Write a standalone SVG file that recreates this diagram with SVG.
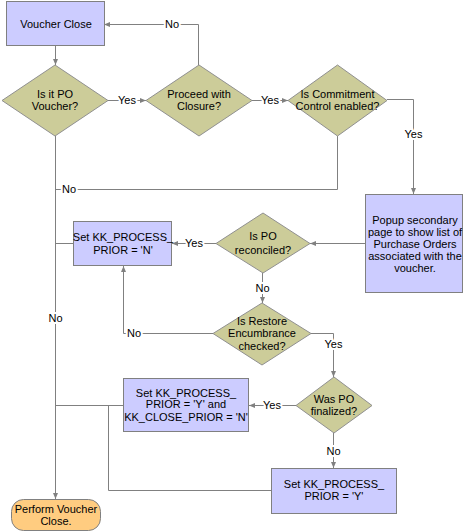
<svg xmlns="http://www.w3.org/2000/svg" width="465" height="532" viewBox="0 0 465 532">
<style>
.box{fill:#CCCCFF;stroke:#808080;stroke-width:1}
.dec{fill:#CCCC99;stroke:#909090;stroke-width:1}
.term{fill:#FFCC80;stroke:#808080;stroke-width:1}
.ln{fill:none;stroke:#808080;stroke-width:1}
text{font-family:"Liberation Sans",Arial,sans-serif;font-size:11px;fill:#000;text-anchor:middle}
.lbl{stroke:#fff;stroke-width:4px;paint-order:stroke;stroke-linejoin:round}
</style>
<defs>
<marker id="ah" viewBox="0 0 6 6" refX="6" refY="3" markerWidth="6" markerHeight="6" orient="auto" markerUnits="userSpaceOnUse">
<path d="M0,0.5 L6,3 L0,5.5 Z" fill="#808080"/>
</marker>
</defs>
<rect width="465" height="532" fill="#fff"/>
<g id="connectors">
<path class="ln" d="M55.5,46 V65" marker-end="url(#ah)"/>
<path class="ln" d="M108,100.5 H146" marker-end="url(#ah)"/>
<path class="ln" d="M252,100.5 H288" marker-end="url(#ah)"/>
<path class="ln" d="M198.5,65 V24.5 H104" marker-end="url(#ah)"/>
<path class="ln" d="M387,99.5 H413.5 V194" marker-end="url(#ah)"/>
<path class="ln" d="M337.5,136 V189.5 H55.5"/>
<path class="ln" d="M55.5,136 V499" marker-end="url(#ah)"/>
<path class="ln" d="M365,243.5 H310" marker-end="url(#ah)"/>
<path class="ln" d="M216,243.5 H172" marker-end="url(#ah)"/>
<path class="ln" d="M73,243.5 H55.5"/>
<path class="ln" d="M262.5,273 V303" marker-end="url(#ah)"/>
<path class="ln" d="M213,333.5 H123.5 V266" marker-end="url(#ah)"/>
<path class="ln" d="M311,333.5 H333.5 V377" marker-end="url(#ah)"/>
<path class="ln" d="M296,405.5 H249" marker-end="url(#ah)"/>
<path class="ln" d="M123,405.5 H55.5"/>
<path class="ln" d="M108.5,405.5 V490.5 H271"/>
<path class="ln" d="M333.5,433 V468" marker-end="url(#ah)"/>
<text class="lbl" x="127" y="104">Yes</text>
<text class="lbl" x="270" y="104">Yes</text>
<text class="lbl" x="172" y="28">No</text>
<text class="lbl" x="413.5" y="138">Yes</text>
<text class="lbl" x="69" y="193">No</text>
<text class="lbl" x="194" y="247">Yes</text>
<text class="lbl" x="262.5" y="292">No</text>
<text class="lbl" x="134" y="337">No</text>
<text class="lbl" x="333.5" y="348">Yes</text>
<text class="lbl" x="272" y="409">Yes</text>
<text class="lbl" x="333.5" y="455">No</text>
<text class="lbl" x="55.5" y="322">No</text>
</g>
<g id="voucher-close">
<rect class="box" x="6.5" y="1.5" width="98" height="44"/>
<text x="56" y="28">Voucher Close</text>
</g>
<g id="is-po-voucher">
<polygon class="dec" points="55,65 108,100.5 55,136 2,100.5"/>
<text x="55" y="98">Is it PO</text>
<text x="55" y="110">Voucher?</text>
</g>
<g id="proceed-closure">
<polygon class="dec" points="199,65 252,100.5 199,136 146,100.5"/>
<text x="199" y="98">Proceed with</text>
<text x="199" y="110">Closure?</text>
</g>
<g id="commitment-control">
<polygon class="dec" points="337.5,65 387,100.5 337.5,136 288,100.5"/>
<text x="337.5" y="98">Is Commitment</text>
<text x="337.5" y="110">Control enabled?</text>
</g>
<g id="popup">
<rect class="box" x="365.5" y="194.5" width="97" height="98"/>
<text x="415" y="224">Popup secondary</text>
<text x="415" y="236">page to show list of</text>
<text x="415" y="248">Purchase Orders</text>
<text x="415" y="260">associated with the</text>
<text x="415" y="272">voucher.</text>
</g>
<g id="po-reconciled">
<polygon class="dec" points="263,213 310,243.5 263,273 216,243.5"/>
<text x="263" y="240">Is PO</text>
<text x="263" y="254">reconciled?</text>
</g>
<g id="set-n">
<rect class="box" x="73.5" y="221.5" width="98" height="44"/>
<text x="123" y="241">Set KK_PROCESS_</text>
<text x="123" y="254">PRIOR = 'N'</text>
</g>
<g id="restore-encumbrance">
<polygon class="dec" points="262,303 311,333.5 262,365 213,333.5"/>
<text x="262" y="325">Is Restore</text>
<text x="262" y="337">Encumbrance</text>
<text x="262" y="350">checked?</text>
</g>
<g id="po-finalized">
<polygon class="dec" points="334,377 372,405.5 334,433 296,405.5"/>
<text x="334" y="403">Was PO</text>
<text x="334" y="415">finalized?</text>
</g>
<g id="set-y-n">
<rect class="box" x="123.5" y="378.5" width="125" height="53"/>
<text x="186" y="397">Set KK_PROCESS_</text>
<text x="186" y="408">PRIOR = 'Y' and</text>
<text x="186" y="421">KK_CLOSE_PRIOR = 'N'</text>
</g>
<g id="set-y">
<rect class="box" x="271.5" y="468.5" width="125" height="45"/>
<text x="334" y="488">Set KK_PROCESS_</text>
<text x="334" y="500">PRIOR = 'Y'</text>
</g>
<g id="perform-close">
<rect class="term" x="11.5" y="499.5" width="89" height="31" rx="12" ry="12"/>
<text x="56" y="513">Perform Voucher</text>
<text x="56" y="525">Close.</text>
</g>
</svg>
